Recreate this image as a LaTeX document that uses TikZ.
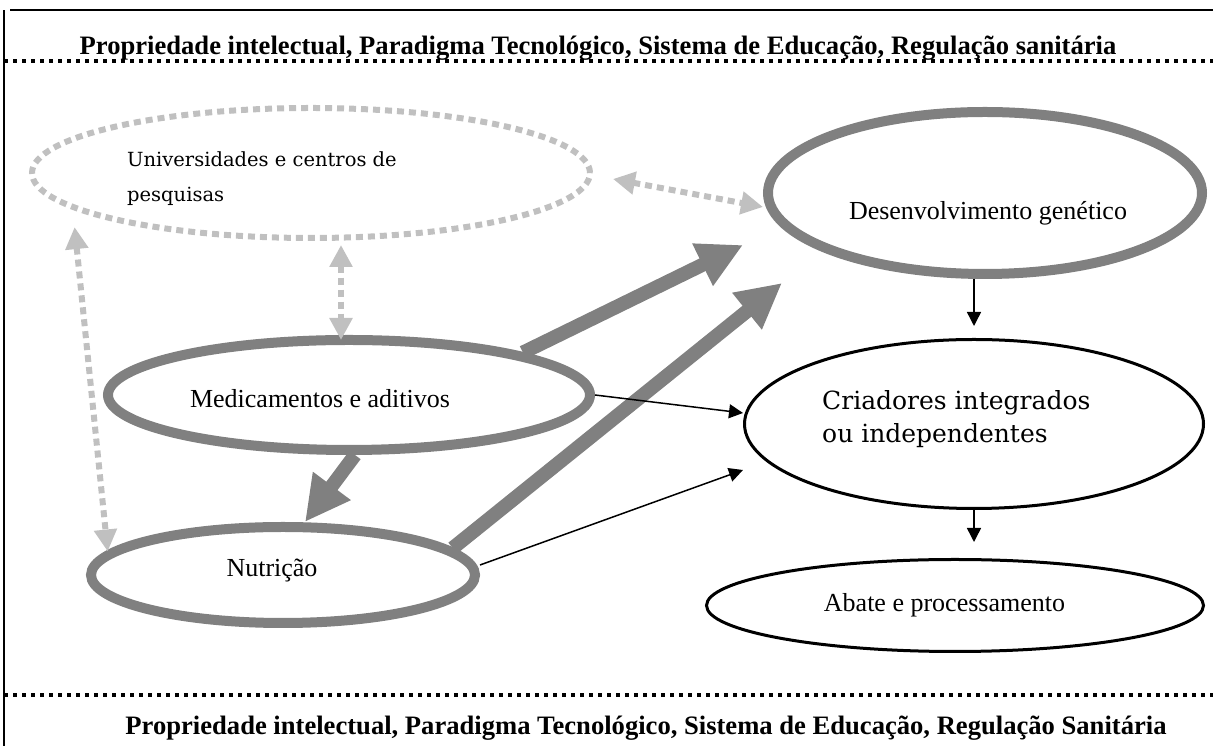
\documentclass[tikz,border=0pt]{standalone}
\usepackage{fontspec}
\setmainfont{Liberation Serif}
\newfontfamily\wideserif{DejaVu Serif}
\usetikzlibrary{arrows.meta,shapes.geometric}
\definecolor{darkgrey}{HTML}{808080}
\definecolor{lightgrey}{HTML}{C0C0C0}

\begin{document}
\begin{tikzpicture}[x=1pt,y=1pt,
  bigell/.style={ellipse,draw=darkgrey,line width=10pt,inner sep=0pt},
  blackell/.style={ellipse,draw,line width=3pt,inner sep=0pt},
  dotell/.style={ellipse,draw=lightgrey,line width=6pt,dash pattern=on 7pt off 5pt,inner sep=0pt},
  lbl/.style={inner sep=0pt,anchor=base,font=\fontsize{26}{31}\selectfont},
  widelbl/.style={inner sep=0pt,anchor=base west,align=left},
  heading/.style={inner sep=0pt,anchor=base,font=\bfseries\fontsize{26.6}{31}\selectfont},
  fatarr/.style={draw=darkgrey,line width=14pt,-{Triangle[length=45pt,width=44pt]}},
  thinarr/.style={line width=1.5pt,-{Triangle[length=14pt,width=14pt]}},
  dotarr/.style={draw=lightgrey,line width=6pt,dash pattern=on 7pt off 5pt,
    {Triangle[length=22pt,width=22pt]}-{Triangle[length=22pt,width=22pt]}},
  dotline/.style={line width=4pt,dash pattern=on 4pt off 5pt}]
\useasboundingbox (0,0) rectangle (1213,746);
% frame and the two bands
\draw[line width=2pt] (4,0) -- (4,736);
\draw[line width=2pt] (10,736) -- (1213,736);
\draw[dotline] (4,685) -- (1213,685);
\draw[dotline] (4,51) -- (1213,51);
\node[heading] (toptxt) at (598,691) {Propriedade intelectual, Paradigma Tecnológico, Sistema de Educação, Regulação sanitária};
\node[heading] (bottxt) at (646,11) {Propriedade intelectual, Paradigma Tecnológico, Sistema de Educação, Regulação Sanitária};
% actors
\node[dotell,minimum width=558pt,minimum height=130pt] (univ) at (311,573) {};
\node[bigell,minimum width=434pt,minimum height=162pt] (gen) at (985,553) {};
\node[bigell,minimum width=482pt,minimum height=110pt] (med) at (349,351) {};
\node[bigell,minimum width=384pt,minimum height=96pt] (nut) at (283,171) {};
\node[blackell,minimum width=459pt,minimum height=169pt] (cri) at (974,322) {};
\node[blackell,minimum width=497pt,minimum height=92pt] (aba) at (955,140.5) {};
\node[widelbl,font=\wideserif\fontsize{19.5}{35}\selectfont] (univtxt) at (127,544) {Universidades e centros de\\pesquisas};
\node[lbl] (gentxt) at (988,526) {Desenvolvimento genético};
\node[lbl] (medtxt) at (320,338) {Medicamentos e aditivos};
\node[lbl] (nuttxt) at (272,169) {Nutrição};
\node[widelbl,font=\wideserif\fontsize{25}{33}\selectfont] (critxt) at (822,303) {Criadores integrados\\ou independentes};
\node[lbl] (abatxt) at (944.5,134) {Abate e processamento};
% links
\draw[dotarr] ([shift={(20,-6)}]univ.east) -- ([yshift=-14]gen.west);
\draw[dotarr] ([shift={(30,-4)}]univ.south) -- ([shift={(-8,-5)}]med.north);
\draw[dotarr] ([shift={(-37,-6)}]univ.south west) -- ([shift={(-36,-14)}]nut.north west);
\draw[fatarr] (med.north east) -- ([shift={(-20,-52)}]gen.west);
\draw[fatarr] (nut.9) -- ([shift={(19,-90)}]gen.west);
\draw[fatarr] ([xshift=6]med.south) -- ([xshift=22]nut.north);
\draw[thinarr] (med.east) -- ([yshift=11]cri.west);
\draw[thinarr] ([yshift=10]nut.east) -- ([yshift=-46]cri.west);
\draw[thinarr] (gen.south -| cri.north) -- ([yshift=12]cri.north);
\coordinate (abtop) at (cri.south |- aba.north);
\draw[thinarr] (cri.south) -- ([yshift=16]abtop);
\end{tikzpicture}
\end{document}
